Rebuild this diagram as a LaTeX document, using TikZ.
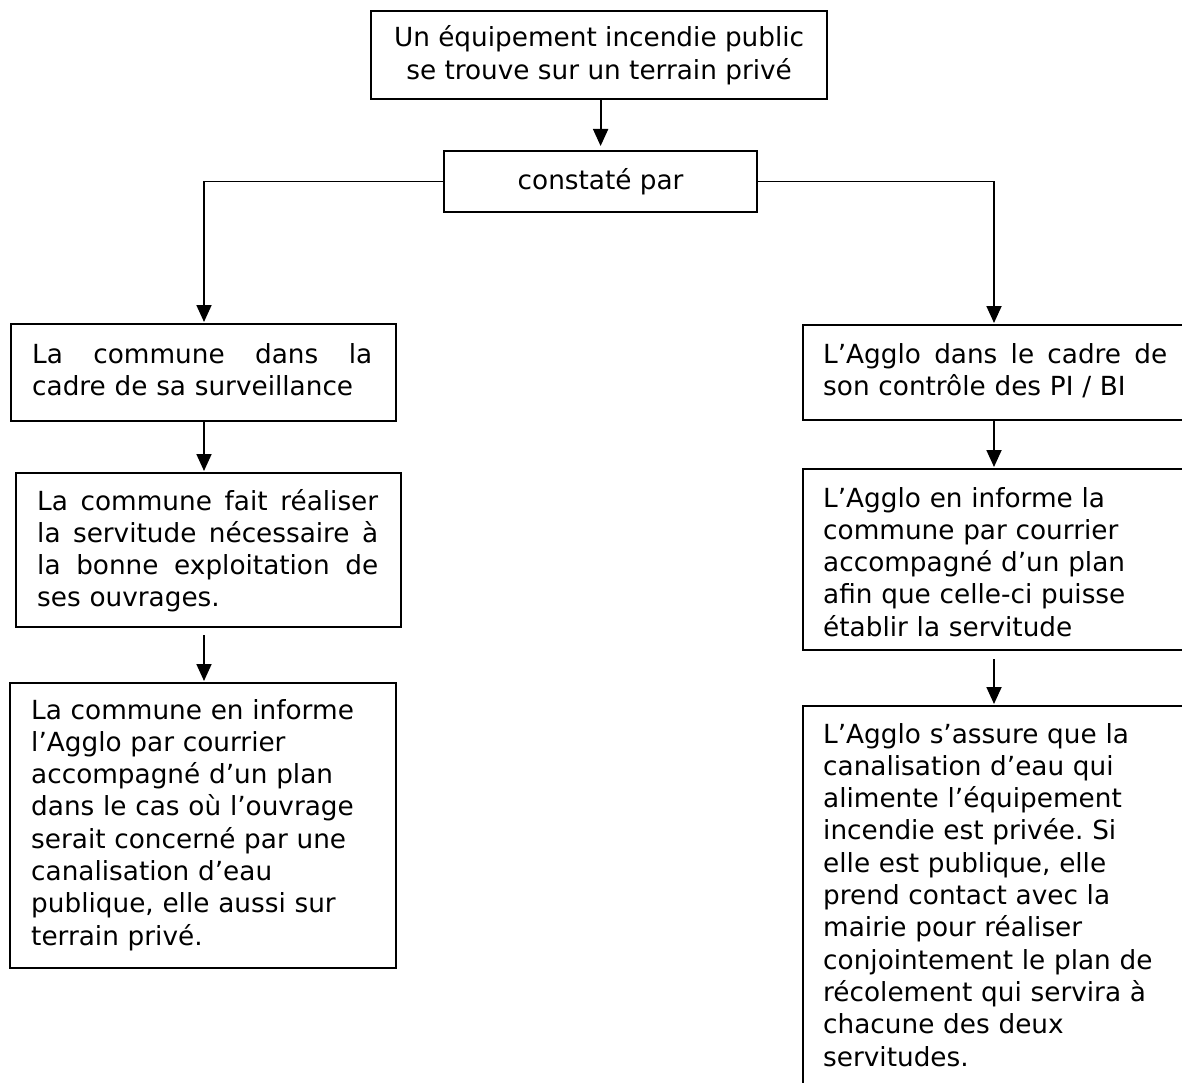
\documentclass[tikz,border=0pt]{standalone}
\usepackage{fontspec}
\setmainfont{DejaVu Sans}
\usetikzlibrary{arrows.meta}
\frenchspacing
\newcommand\fsz{\fontsize{26.3}{32.3}\selectfont}
\newcommand\jline[2]{\leavevmode\hbox to #1{#2}}
\begin{document}
\begin{tikzpicture}[x=1pt,y=-1pt,
  box/.style={draw, line width=2.2pt, anchor=north west, inner sep=0pt},
  txt/.style={anchor=base west, inner sep=0pt, align=left, font=\fsz},
  ctxt/.style={inner sep=0pt, align=center, font=\fsz},
  arr/.style={line width=1.8pt, -{Triangle[width=15pt,length=17pt]}}]
\useasboundingbox (0,0) rectangle (1182,1083);
\fill[white] (0,0) rectangle (1182,1083);
\clip (0,0) rectangle (1182,1083);

% boxes
\node[box, minimum width=456pt, minimum height=88pt] (b0) at (370,10) {};
\node[box, minimum width=313pt, minimum height=61pt] (b1) at (443,150) {};
\node[box, minimum width=385pt, minimum height=97pt] (bL1) at (10,323) {};
\node[box, minimum width=385pt, minimum height=154pt] (bL2) at (15,472) {};
\node[box, minimum width=386pt, minimum height=285pt] (bL3) at (9,682) {};
\node[box, minimum width=420pt, minimum height=95pt] (bR1) at (802,324) {};
\node[box, minimum width=420pt, minimum height=181pt] (bR2) at (802,468) {};
\node[box, minimum width=420pt, minimum height=420pt] (bR3) at (802,705) {};

% texts
\node[ctxt] (t0) at (b0.center) {Un équipement incendie public\\se trouve sur un terrain privé};
\node[ctxt] (t1) at (b1.center) {constaté par};
\node[txt, text width=345pt] (tL1) at (32,363) {\jline{340pt}{La\hfill commune\hfill dans\hfill la}\\cadre de sa surveillance};
\node[txt, text width=345pt] (tL2) at (37,510) {\jline{341pt}{La\hfill commune\hfill fait\hfill réaliser}\\\jline{341pt}{la\hfill servitude\hfill nécessaire\hfill à}\\\jline{341pt}{la\hfill bonne\hfill exploitation\hfill de}\\ses ouvrages.};
\node[txt, text width=350pt] (tL3) at (31,719) {La commune en informe\\l’Agglo par courrier\\accompagné d’un plan\\dans le cas où l’ouvrage\\serait concerné par une\\canalisation d’eau\\publique, elle aussi sur\\terrain privé.};
\node[txt, text width=350pt] (tR1) at (823,363) {\jline{344pt}{L’Agglo\hfill dans\hfill le\hfill cadre\hfill de}\\son contrôle des PI / BI};
\node[txt, text width=350pt] (tR2) at (823,507) {L’Agglo en informe la\\commune par courrier\\accompagné d’un plan\\afin que celle-ci puisse\\établir la servitude};
\node[txt, text width=350pt] (tR3) at (823,743) {L’Agglo s’assure que la\\canalisation d’eau qui\\alimente l’équipement\\incendie est privée. Si\\elle est publique, elle\\prend contact avec la\\mairie pour réaliser\\conjointement le plan de\\récolement qui servira à\\chacune des deux\\servitudes.};

% helper columns
\coordinate (lc) at (204,0);
\coordinate (rc) at (994,0);

% connectors
\draw[arr, shorten >=4pt] (b0.south -| b1.north) -- (b1.north);
\draw[arr, shorten >=1pt] (b1.west) -| (bL1.north -| lc);
\draw[arr, shorten >=1pt] (b1.east) -| (bR1.north -| rc);
\draw[arr, shorten >=1pt] (bL1.south -| lc) -- (bL2.north -| lc);
\draw[arr, shorten <=7pt, shorten >=1pt] (bL2.south -| lc) -- (bL3.north -| lc);
\draw[arr, shorten >=1pt] (bR1.south -| rc) -- (bR2.north -| rc);
\draw[arr, shorten <=8pt, shorten >=1pt] (bR2.south -| rc) -- (bR3.north -| rc);
\end{tikzpicture}
\end{document}
